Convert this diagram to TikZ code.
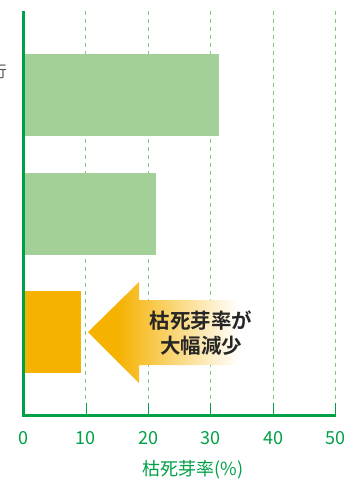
\documentclass[tikz,border=0pt]{standalone}
\usepackage{fontspec}
\newfontfamily\jpfont{Noto Sans CJK JP}[BoldFont={Noto Sans CJK JP Bold}]
\definecolor{axisgreen}{RGB}{0,160,70}
\definecolor{bargreen}{RGB}{163,208,153}
\definecolor{gridgreen}{RGB}{125,200,125}
\definecolor{barorange}{RGB}{245,178,0}
\definecolor{labelgray}{RGB}{90,90,90}
\pgfdeclarehorizontalshading{arrowfade}{100bp}{color(0bp)=(barorange); color(34bp)=(barorange); color(71bp)=(white); color(100bp)=(white)}
\begin{document}
\begin{tikzpicture}[x=1pt,y=-1pt]
    \useasboundingbox (0,0) rectangle (353,482);
    \coordinate (cOPt) at (23.5,415.5);
    \coordinate (cTopPt) at (23.5,11);
    \coordinate (cEndPt) at (335.5,415.5);
    % grid
\foreach \i in {1,...,5}
{
    \draw[gridgreen,line width=1pt,dash pattern=on 4pt off 4pt] (23.5+62.4*\i,11) -- (23.5+62.4*\i,403);
    \draw[axisgreen,line width=0.8pt] (23.5+62.4*\i,403) -- (23.5+62.4*\i,415.5);
};
    % bars
    \fill[bargreen] (24,54) rectangle (219,136);
    \fill[bargreen] (24,173) rectangle (156,255);
    \fill[barorange] (24,291) rectangle (81,373);
    % arrow
    \shade[shading=arrowfade] (88,332) -- (139,282) -- (139,300) -- (252,300)
        -- (252,365) -- (139,365) -- (139,383) -- cycle;
    \node[font=\jpfont\bfseries\fontsize{20.5}{24.5}\selectfont,align=center,text=black!85] (nDrop) at (201,333) {枯死芽率が\\大幅減少};
    % axes
    \draw[axisgreen,line width=2.5pt] (cTopPt) -- (cOPt) -- (cEndPt);
\foreach \i in {0,...,5}
{
    \pgfmathtruncatemacro{\t}{10*\i}
    \node[font=\jpfont\fontsize{18}{18}\selectfont,text=axisgreen] at (23.5+62.4*\i,438.5) {\t};
};
    \node[font=\jpfont\fontsize{18}{18}\selectfont,text=axisgreen] (nTitle) at (193,470) {枯死芽率(\%)};
    \node[anchor=east,inner sep=0pt,font=\jpfont\fontsize{16}{16}\selectfont,text=labelgray] (nCut) at (7,71) {行};
\end{tikzpicture}
\end{document}
